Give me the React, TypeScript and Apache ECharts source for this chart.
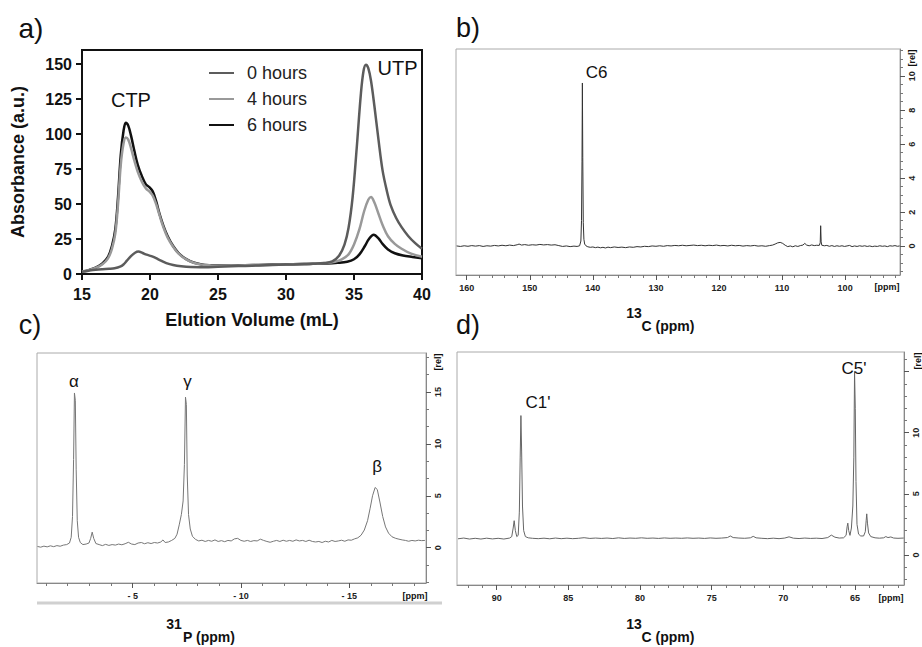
import React, { useEffect, useRef } from 'react';
import * as echarts from 'echarts';

// ---------- Panel a: HPLC traces ----------
const hplcNames = ['0 hours', '4 hours', '6 hours'];
const hplc0h = [[15,1.7],[15.5,2.4],[16,3],[16.5,3.4],[17,3.7],[17.4,4.1],[17.8,5.2],[18.05,6.8],[18.3,9.5],[18.6,12.8],[18.9,15.2],[19.15,16],[19.45,15],[19.75,13.8],[20.1,12.8],[20.4,11.5],[20.8,9.6],[21.2,7.8],[21.7,6.4],[22.3,5.5],[23,5],[24,4.9],[25,5.2],[26,5.5],[27,5.8],[28,6.1],[29,6.4],[30,6.7],[31,7],[32,7.3],[32.8,7.8],[33.4,9],[33.9,13],[34.3,21],[34.6,33],[34.9,55],[35.2,90],[35.5,128],[35.7,145],[35.88,149.5],[36.05,147],[36.25,138],[36.5,120],[36.8,96],[37.1,74],[37.4,60],[37.7,49],[38.1,40],[38.5,33.5],[39,27],[39.5,22],[40,18]];
const hplc4h = [[15,1.8],[15.5,2.7],[16,4.3],[16.5,7],[16.9,11],[17.2,18],[17.45,29],[17.65,50],[17.85,78],[18.05,93],[18.22,97.5],[18.4,96],[18.6,90],[18.85,81],[19.1,73],[19.4,66],[19.7,61],[19.95,59],[20.2,56],[20.45,50],[20.7,42],[21,33],[21.3,26],[21.7,19.5],[22.1,14.5],[22.6,10.8],[23.2,8],[23.8,6.7],[24.5,6.1],[25,5.9],[26,6],[27,6.2],[28,6.4],[29,6.6],[30,6.8],[31,7],[32,7.3],[33,7.8],[33.6,8.8],[34.1,10.5],[34.6,14],[35,21],[35.4,32],[35.75,45],[36.05,53],[36.25,55],[36.5,51],[36.8,43],[37.1,35],[37.5,27],[38,21.5],[38.5,18],[39.2,14.5],[40,12.3]];
const hplc6h = [[15,1.7],[15.5,2.8],[16,4.5],[16.5,7.5],[16.9,12],[17.2,20],[17.45,32],[17.65,55],[17.85,85],[18.05,102],[18.22,108],[18.4,106],[18.6,99],[18.85,88],[19.1,78],[19.4,70],[19.7,64],[19.95,62],[20.2,59],[20.45,52],[20.7,43],[21,34],[21.3,27],[21.7,20],[22.1,15],[22.6,11],[23.2,8.2],[23.8,6.8],[24.5,6.2],[25,6],[26,6.1],[27,6.3],[28,6.5],[29,6.7],[30,6.9],[31,7.1],[32,7.3],[33,7.5],[33.8,8],[34.5,8.8],[35,10.5],[35.4,14],[35.8,20],[36.1,25],[36.45,28],[36.8,25.5],[37.1,21.5],[37.5,17.5],[38,14.8],[38.6,13.2],[39.3,12.2],[40,11.3]];
const hplcPeakLabels = [{ name: 'CTP', value: [18.6, 124] }, { name: 'UTP', value: [38.2, 147] }];

// ---------- Panel b: 13C spectrum (aromatic) ----------
const specB = [[161.6,0.01],[161,-0.02],[160.4,0.02],[159.8,-0.01],[159.2,0.03],[158.6,0],[158,0.03],[157.4,-0.02],[156.8,0.02],[156.2,0],[155.6,0.04],[155,0.01],[154.4,0.05],[153.8,0.02],[153.2,0.06],[152.6,0.03],[152,0.08],[151.7,0.12],[151.3,0.06],[150.8,0.09],[150.2,0.05],[149.6,0.08],[149,0.06],[148.4,0.1],[147.8,0.07],[147.2,0.09],[146.6,0.06],[146,0.08],[145.4,0.03],[144.8,-0.02],[144.2,0.01],[143.6,-0.03],[143,0],[142.5,-0.02],[142.1,0.02],[141.9,0.3],[141.8,1.5],[141.72,5],[141.66,9.6],[141.6,5.2],[141.52,1.4],[141.42,0.4],[141.3,0.12],[141.1,0.02],[140.8,-0.04],[140.4,-0.07],[140,-0.05],[139.6,-0.09],[139.2,-0.06],[138.8,-0.1],[138.4,-0.07],[138,-0.11],[137.6,-0.06],[137.2,-0.09],[136.6,-0.05],[136,-0.08],[135.4,-0.06],[134.8,-0.09],[134.2,-0.05],[133.6,-0.07],[133,-0.03],[132.4,-0.05],[131.8,-0.01],[131.2,-0.03],[130.6,0.01],[130,-0.01],[129.4,0.02],[128.8,-0.01],[128.2,0.03],[127.6,0.01],[127,0.04],[126.4,0.02],[125.8,0.05],[125.2,0.02],[124.6,0.04],[124,0.06],[123.4,0.03],[122.8,0.05],[122.2,0.02],[121.6,0.05],[121,0.03],[120.4,0.06],[119.8,0.02],[119.2,0.04],[118.6,0.01],[118,0.05],[117.4,0.02],[116.8,0.04],[116.2,0],[115.6,0.03],[115,0.01],[114.4,0.04],[113.8,0],[113.2,0.02],[112.6,-0.01],[112,0.03],[111.5,0.06],[111.1,0.12],[110.7,0.19],[110.3,0.22],[109.9,0.16],[109.5,0.05],[109.1,-0.03],[108.7,0.01],[108.3,-0.04],[107.9,0.02],[107.5,-0.02],[107.1,0.03],[106.7,0.06],[106.4,0.16],[106.1,0.06],[105.7,0.02],[105.3,0.07],[104.9,0.03],[104.5,0.05],[104.1,0.04],[103.95,0.2],[103.88,1.2],[103.8,0.25],[103.7,0.05],[103.3,0.02],[102.9,0.04],[102.5,-0.01],[102.1,0.03],[101.7,-0.02],[101.3,0.02],[100.9,-0.01],[100.5,0.02],[100.1,-0.02],[99.7,0.01],[99.3,0.04],[98.9,-0.03],[98.5,0.01],[98.1,-0.02],[97.7,0.02],[97.3,-0.01],[96.9,0.02],[96.5,-0.02],[96.1,0.01],[95.7,-0.03],[95.3,0],[94.9,-0.02],[94.5,0.02],[94.1,-0.01],[93.7,0.01],[93.3,-0.03],[92.9,0.02],[92.5,0],[92.1,0.03],[91.7,-0.01],[91.35,0.01]];
const peaksB = [{ name: 'C6', value: [139.4, 10.2] }];
const xTicksB = [160, 150, 140, 130, 120, 110, 100];
const yTicksB = [0, 2, 4, 6, 8, 10];

// ---------- Panel c: 31P spectrum ----------
const specC = [[-0.6,0.12],[-0.75,0.05],[-0.9,0.15],[-1.05,0.08],[-1.2,0.18],[-1.35,0.1],[-1.5,0.2],[-1.65,0.14],[-1.8,0.25],[-1.95,0.3],[-2.08,0.45],[-2.16,1],[-2.22,3],[-2.27,8.5],[-2.31,14.9],[-2.35,14.2],[-2.39,7.5],[-2.44,2.6],[-2.5,1],[-2.58,0.5],[-2.7,0.3],[-2.85,0.35],[-2.98,0.45],[-3.06,0.9],[-3.13,1.5],[-3.2,0.9],[-3.3,0.4],[-3.45,0.3],[-3.6,0.2],[-3.75,0.32],[-3.9,0.22],[-4.05,0.3],[-4.2,0.25],[-4.35,0.35],[-4.5,0.28],[-4.65,0.38],[-4.8,0.52],[-4.95,0.35],[-5.1,0.3],[-5.25,0.45],[-5.4,0.5],[-5.55,0.38],[-5.7,0.48],[-5.85,0.4],[-6,0.5],[-6.15,0.45],[-6.3,0.55],[-6.4,0.75],[-6.5,0.5],[-6.65,0.55],[-6.8,0.7],[-6.95,0.9],[-7.05,1.3],[-7.15,2.2],[-7.25,3.2],[-7.33,4.5],[-7.39,8],[-7.44,14.5],[-7.48,13.8],[-7.52,7],[-7.58,3.2],[-7.66,1.8],[-7.76,1.1],[-7.9,0.8],[-8.05,0.65],[-8.2,0.72],[-8.35,0.6],[-8.5,0.7],[-8.65,0.62],[-8.8,0.75],[-8.95,0.6],[-9.1,0.68],[-9.25,0.58],[-9.4,0.7],[-9.55,0.65],[-9.7,0.85],[-9.85,0.9],[-10,0.7],[-10.15,0.62],[-10.3,0.7],[-10.45,0.6],[-10.6,0.68],[-10.75,0.65],[-10.9,0.82],[-11.05,0.7],[-11.2,0.6],[-11.35,0.52],[-11.5,0.62],[-11.65,0.7],[-11.8,0.6],[-11.95,0.72],[-12.1,0.62],[-12.25,0.7],[-12.4,0.62],[-12.55,0.75],[-12.7,0.65],[-12.85,0.7],[-13,0.6],[-13.15,0.72],[-13.3,0.6],[-13.45,0.55],[-13.6,0.6],[-13.75,0.5],[-13.9,0.62],[-14.05,0.55],[-14.2,0.7],[-14.35,0.6],[-14.5,0.65],[-14.65,0.72],[-14.8,0.62],[-14.95,0.75],[-15.1,0.72],[-15.25,0.85],[-15.4,0.95],[-15.55,1.2],[-15.7,1.7],[-15.85,2.6],[-15.97,3.8],[-16.08,5],[-16.2,5.8],[-16.3,5.6],[-16.42,4.4],[-16.55,3],[-16.68,2],[-16.82,1.4],[-16.98,1.05],[-17.15,0.9],[-17.3,0.82],[-17.45,0.75],[-17.6,0.7],[-17.75,0.62],[-17.9,0.7],[-18.05,0.65],[-18.2,0.72],[-18.35,0.68],[-18.5,0.7]];
const peaksC = [{ name: 'α', value: [-2.28, 16.0] }, { name: 'γ', value: [-7.53, 16.0] }, { name: 'β', value: [-16.29, 7.8] }];
const xTicksC = [-5, -10, -15];
const yTicksC = [0, 5, 10, 15];

// ---------- Panel d: 13C spectrum (ribose) ----------
const specD = [[92.7,1.32],[92.3,1.38],[91.9,1.3],[91.5,1.36],[91.1,1.3],[90.7,1.37],[90.3,1.31],[89.9,1.36],[89.5,1.3],[89.1,1.38],[88.95,1.5],[88.85,2.2],[88.78,2.8],[88.7,2],[88.6,1.5],[88.5,1.6],[88.42,3.5],[88.36,8],[88.31,11.4],[88.26,8.5],[88.2,4],[88.12,2],[88,1.5],[87.8,1.4],[87.5,1.36],[87.1,1.33],[86.7,1.37],[86.3,1.32],[85.9,1.38],[85.5,1.33],[85.1,1.37],[84.7,1.33],[84.3,1.36],[83.9,1.41],[83.5,1.35],[83.1,1.38],[82.7,1.35],[82.3,1.38],[81.9,1.34],[81.5,1.4],[81.1,1.35],[80.7,1.38],[80.3,1.36],[79.9,1.4],[79.5,1.36],[79.1,1.38],[78.7,1.35],[78.3,1.39],[77.9,1.36],[77.5,1.38],[77.1,1.36],[76.7,1.39],[76.3,1.36],[75.9,1.38],[75.5,1.35],[75.1,1.39],[74.7,1.36],[74.3,1.38],[73.9,1.42],[73.7,1.55],[73.5,1.42],[73.1,1.38],[72.7,1.36],[72.3,1.4],[72.1,1.52],[71.9,1.4],[71.5,1.36],[71.1,1.33],[70.7,1.37],[70.3,1.33],[69.9,1.38],[69.6,1.48],[69.3,1.37],[68.9,1.34],[68.5,1.38],[68.1,1.35],[67.7,1.37],[67.3,1.34],[66.9,1.42],[66.65,1.62],[66.4,1.45],[66.1,1.38],[65.8,1.4],[65.62,1.6],[65.55,2.3],[65.5,2.6],[65.44,2],[65.35,1.6],[65.25,2.2],[65.15,4],[65.08,8],[65.03,15],[64.98,12],[64.93,6],[64.86,2.5],[64.75,1.7],[64.6,1.55],[64.4,1.55],[64.28,1.9],[64.22,2.8],[64.18,3.36],[64.13,2.6],[64.05,1.8],[63.9,1.5],[63.6,1.4],[63.3,1.37],[63,1.4],[62.85,1.5],[62.7,1.42],[62.5,1.47],[62.3,1.38],[62,1.36],[61.6,1.38]];
const peaksD = [{ name: "C1'", value: [87.12, 12.46] }, { name: "C5'", value: [65.07, 15.25] }];
const xTicksD = [90, 85, 80, 75, 70, 65];
const yTicksD = [0, 5, 10, 15];
const yLabelsD = [0, 5, 10];

const SANS = "'Liberation Sans', Arial, Helvetica, sans-serif";
const NARROW = "'Liberation Sans Narrow', 'Arial Narrow', 'Liberation Sans', sans-serif";

function nmrX(gridIndex: number, min: number, max: number, split: number, ticks: number[], fmt: (v: number) => string) {
  return {
    type: 'value', gridIndex, min, max, inverse: true, splitNumber: split,
    axisLine: { show: true, onZero: false, lineStyle: { color: '#888', width: 1 } },
    axisTick: { show: true, customValues: ticks, length: 5, lineStyle: { color: '#555' } },
    minorTick: { show: true, splitNumber: 5, length: 3, lineStyle: { color: '#777' } },
    axisLabel: { customValues: ticks, formatter: fmt, fontSize: 9, fontWeight: 'bold', color: '#222', margin: 8, fontFamily: SANS },
    splitLine: { show: false }, minorSplitLine: { show: false },
  };
}
function nmrY(gridIndex: number, min: number, max: number, split: number, minorSplit: number, ticks: number[], labels: number[]) {
  return {
    type: 'value', gridIndex, min, max, position: 'right', splitNumber: split,
    axisLine: { show: true, onZero: false, lineStyle: { color: '#888', width: 1 } },
    axisTick: { show: true, customValues: ticks, length: 5, lineStyle: { color: '#555' } },
    minorTick: { show: true, splitNumber: minorSplit, length: 3, lineStyle: { color: '#777' } },
    axisLabel: { customValues: labels, rotate: 90, fontSize: 9, fontWeight: 'bold', color: '#222', margin: 7, fontFamily: SANS },
    splitLine: { show: false }, minorSplitLine: { show: false },
  };
}
function annot(xi: number, data: any[], size: number, color: string, family: string) {
  return {
    type: 'scatter', xAxisIndex: xi, yAxisIndex: xi, data, symbolSize: 1,
    itemStyle: { color: 'rgba(0,0,0,0)' }, silent: true, z: 5,
    label: { show: true, position: 'inside', formatter: '{b}', fontSize: size, color, fontFamily: family, textBorderWidth: 0, opacity: 1 },
  };
}

function txt(x: number, y: number, text: string, size: number, weight = 'normal', extra: any = {}) {
  return {
    type: 'text', x, y, silent: true, ...extra,
    style: { text, fontSize: size, fontWeight: weight, fontFamily: SANS, fill: '#111', align: 'center', verticalAlign: 'middle' },
  };
}

export default function App() {
  const ref = useRef<HTMLDivElement>(null);
  useEffect(() => {
    if (!ref.current) return;
    const chart = echarts.init(ref.current, null, { renderer: 'svg' });
    const gridBase = { show: true, containLabel: false, outerBoundsMode: 'none', backgroundColor: 'transparent' };
    const option: any = {
      animation: false,
      backgroundColor: '#fff',
      grid: [
        { ...gridBase, left: 82, top: 50, width: 340, height: 224, borderColor: '#111', borderWidth: 2 },
        { ...gridBase, left: 456, top: 49, width: 444, height: 226, borderColor: '#aaa', borderWidth: 1 },
        { ...gridBase, left: 37, top: 353, width: 389, height: 230, borderColor: '#aaa', borderWidth: 1 },
        { ...gridBase, left: 457, top: 352, width: 447, height: 233, borderColor: '#aaa', borderWidth: 1 },
      ],
      legend: {
        left: 204, top: 58, orient: 'vertical', itemWidth: 25, itemHeight: 14, itemGap: 6,
        data: hplcNames, icon: 'path://M0,6 L25,6 L25,8 L0,8 Z',
        textStyle: { fontSize: 18, color: '#222', fontFamily: SANS, lineHeight: 20, padding: [0, 0, 0, 8] },
      },
      xAxis: [
        {
          type: 'value', gridIndex: 0, min: 15, max: 40, interval: 5,
          axisLine: { show: true, onZero: false, lineStyle: { color: '#111', width: 2 } },
          axisTick: { show: true, length: 6, lineStyle: { color: '#111', width: 2 } },
          axisLabel: { fontSize: 16, fontWeight: 'bold', color: '#111', margin: 12, fontFamily: SANS },
          splitLine: { show: false },
        },
        nmrX(1, 91.3, 161.7, 5, xTicksB, (v: number) => String(v)),
        nmrX(2, -18.55, -0.58, 4, xTicksC, (v: number) => '- ' + Math.abs(v)),
        nmrX(3, 61.58, 92.77, 5, xTicksD, (v: number) => String(v)),
      ],
      yAxis: [
        {
          type: 'value', gridIndex: 0, min: 0, max: 160, interval: 25,
          axisLine: { show: true, onZero: false, lineStyle: { color: '#111', width: 2 } },
          axisTick: { show: true, length: 6, lineStyle: { color: '#111', width: 2 } },
          axisLabel: { fontSize: 16, fontWeight: 'bold', color: '#111', margin: 10, fontFamily: SANS },
          splitLine: { show: false },
        },
        nmrY(1, -1.7, 11.6, 7, 4, yTicksB, yTicksB),
        nmrY(2, -3.4, 18.75, 5, 3, yTicksC, yTicksC),
        nmrY(3, -2.46, 16.6, 4, 5, yTicksD, yLabelsD),
      ],
      series: [
        { name: hplcNames[0], type: 'line', xAxisIndex: 0, yAxisIndex: 0, data: hplc0h, showSymbol: false, symbol: 'none', smooth: 0.35, lineStyle: { color: '#5c5c5c', width: 2.5 }, itemStyle: { color: '#5c5c5c' }, z: 3 },
        { name: hplcNames[1], type: 'line', xAxisIndex: 0, yAxisIndex: 0, data: hplc4h, showSymbol: false, symbol: 'none', smooth: 0.35, lineStyle: { color: '#999', width: 2.5 }, itemStyle: { color: '#999' }, z: 2 },
        { name: hplcNames[2], type: 'line', xAxisIndex: 0, yAxisIndex: 0, data: hplc6h, showSymbol: false, symbol: 'none', smooth: 0.35, lineStyle: { color: '#111', width: 2.5 }, itemStyle: { color: '#111' }, z: 1 },
        annot(0, hplcPeakLabels, 20, '#111', SANS),
        { type: 'line', xAxisIndex: 1, yAxisIndex: 1, data: specB, showSymbol: false, symbol: 'none', lineStyle: { color: '#333', width: 1 } },
        annot(1, peaksB, 17, '#111', NARROW),
        { type: 'line', xAxisIndex: 2, yAxisIndex: 2, data: specC, showSymbol: false, symbol: 'none', lineStyle: { color: '#777', width: 1 } },
        annot(2, peaksC, 17, '#111', NARROW),
        { type: 'line', xAxisIndex: 3, yAxisIndex: 3, data: specD, showSymbol: false, symbol: 'none', lineStyle: { color: '#666', width: 1 } },
        annot(3, peaksD, 17, '#111', NARROW),
      ],
      graphic: [
        txt(31, 28, 'a)', 28),
        txt(468, 28, 'b)', 27),
        txt(30, 325, 'c)', 27),
        txt(468, 325, 'd)', 27),
        txt(18, 162, 'Absorbance (a.u.)', 18, 'bold', { rotation: Math.PI / 2 }),
        txt(252, 320, 'Elution Volume (mL)', 18, 'bold'),
        txt(634, 313, '13', 14, 'bold'),
        txt(668, 326, 'C (ppm)', 14, 'bold'),
        txt(174, 624, '31', 14, 'bold'),
        txt(209, 637, 'P (ppm)', 14, 'bold'),
        txt(634, 624, '13', 14, 'bold'),
        txt(668, 637, 'C (ppm)', 14, 'bold'),
        txt(887, 287, '[ppm]', 9, 'bold'),
        txt(415, 596, '[ppm]', 9, 'bold'),
        txt(891, 598, '[ppm]', 9, 'bold'),
        txt(912, 58, '[rel]', 9, 'bold', { rotation: Math.PI / 2 }),
        txt(438, 362, '[rel]', 9, 'bold', { rotation: Math.PI / 2 }),
        txt(918, 361, '[rel]', 9, 'bold', { rotation: Math.PI / 2 }),
        { type: 'line', silent: true, shape: { x1: 37, y1: 603, x2: 442, y2: 603 }, style: { stroke: '#d0d0d0', lineWidth: 3 } },
      ],
    };
    chart.setOption(option);
    return () => chart.dispose();
  }, []);
  return <div ref={ref} style={{ position: 'fixed', left: 0, top: 0, width: 922, height: 647, background: '#fff' }} />;
}
